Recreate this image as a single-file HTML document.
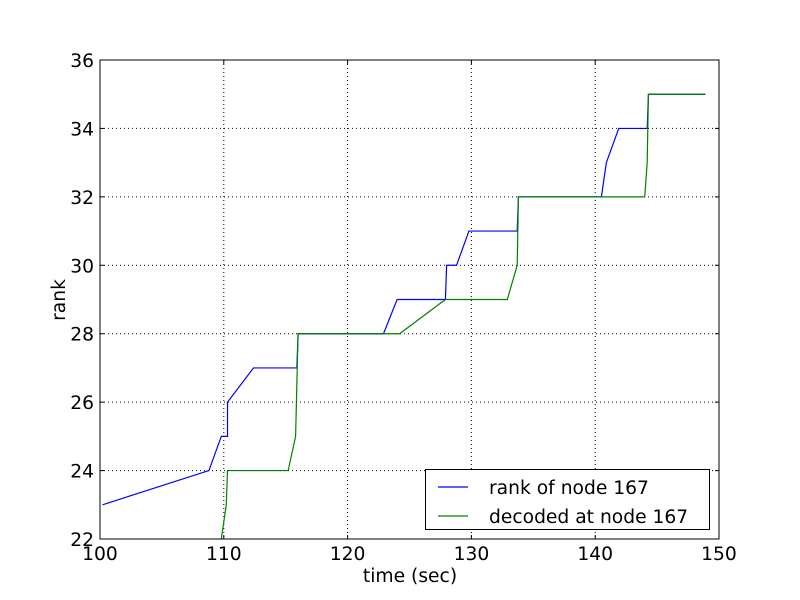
<!DOCTYPE html>
<html><head><meta charset="utf-8"><style>body{margin:0;background:#fff}svg{display:block;font-family:"DejaVu Sans","Liberation Sans",sans-serif}</style></head>
<body>
<svg id="c" width="800" height="600"></svg>
<script>
const xTicks=[100,110,120,130,140,150];
const yTicks=[22,24,26,28,30,32,34,36];
const blueX=[100.2,108.8,109.8,110.3,110.3,112.4,115.9,116,122.9,124,127.9,128,128.8,129.8,133.7,133.8,140.5,140.9,141.9,144.2,144.3,148.9];
const blueY=[23,24,25,25,26,27,27,28,28,29,29,30,30,31,31,32,32,33,34,34,35,35];
const greenX=[109.8,110.2,110.3,115.2,115.8,116,124.2,127.9,132.9,133.7,133.8,144,144.2,144.3,148.9];
const greenY=[22,23,24,24,25,28,28,29,29,30,32,32,33,35,35];
const L=100,R=719,T=60,B=539;
const FS=18.7;
const sx=v=>L+(v-100)/50*(R-L), sy=v=>B-(v-22)/14*(B-T);
const svg=document.getElementById('c');const NS='http://www.w3.org/2000/svg';
function mk(t,a,p){const e=document.createElementNS(NS,t);for(const k in a)e.setAttribute(k,a[k]);(p||svg).appendChild(e);return e;}
xTicks.forEach(v=>{const x=sx(v);
 const g=mk('line',{x1:x,x2:x,y1:T,y2:B,stroke:'#000','stroke-dasharray':'1,3','stroke-width':1});
 
 
 mk('line',{x1:x,x2:x,y1:B,y2:B-4,stroke:'#000'});mk('line',{x1:x,x2:x,y1:T,y2:T+4,stroke:'#000'});
 const t=mk('text',{x:x,y:B+21,'text-anchor':'middle','font-size':FS});t.textContent=v;
 
 });
yTicks.forEach(v=>{const y=sy(v);
 const g=mk('line',{x1:L,x2:R,y1:y,y2:y,stroke:'#000','stroke-dasharray':'1,3','stroke-width':1});
 
 
 mk('line',{x1:L,x2:L+4,y1:y,y2:y,stroke:'#000'});mk('line',{x1:R,x2:R-4,y1:y,y2:y,stroke:'#000'});
 const t=mk('text',{x:L-6,y:y+7,'text-anchor':'end','font-size':FS});t.textContent=v;
 
 });
function line(xs,ys,col,name){const p=mk('polyline',{points:xs.map((x,i)=>sx(x)+','+sy(ys[i])).join(' '),fill:'none',stroke:col,'stroke-width':1.2});
 
 }
line(blueX,blueY,'#0000ff','rank-line');
line(greenX,greenY,'#008000','decoded-line');
const fr=mk('rect',{x:L,y:T,width:R-L,height:B-T,fill:'none',stroke:'#000'});


const xl=mk('text',{x:410,y:582,'text-anchor':'middle','font-size':FS});xl.textContent='time (sec)';


const yl=mk('text',{x:65,y:300,'text-anchor':'middle','font-size':FS,transform:'rotate(-90 65 300)'});yl.textContent='rank';


const lg=mk('g',{});


mk('rect',{x:425.5,y:469.5,width:284,height:60,fill:'#fff',stroke:'#000'},lg);
[['rank of node 167','#0000ff',487],['decoded at node 167','#008000',516]].forEach(([s,c,y])=>{
 mk('line',{x1:438,x2:468,y1:y,y2:y,stroke:c,'stroke-width':1.2},lg);
 const t=mk('text',{x:489,y:y+7,'font-size':FS},lg);t.textContent=s;
 
 });
</script>
</body></html>
